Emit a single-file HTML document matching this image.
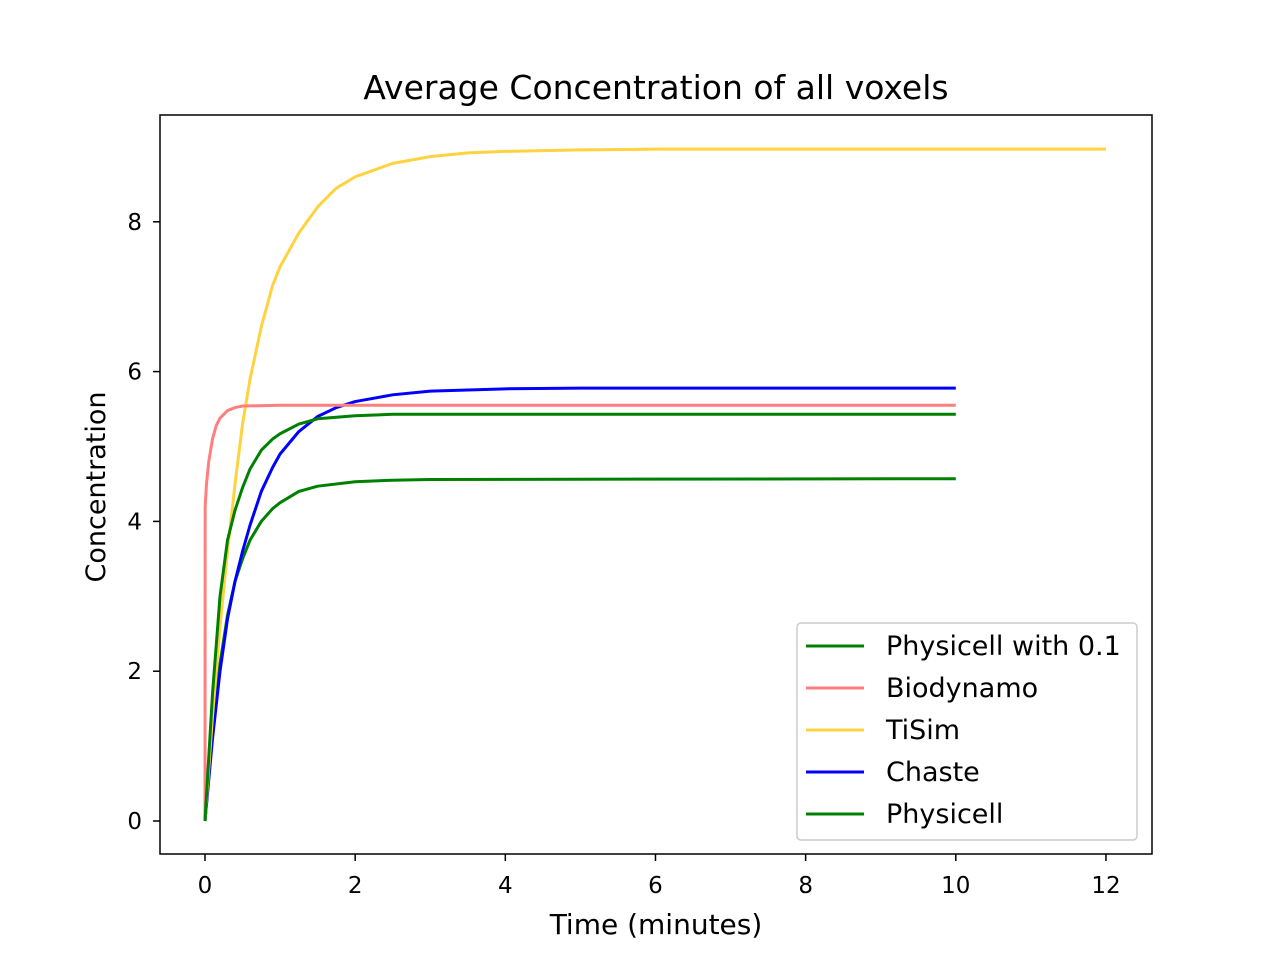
<!DOCTYPE html>
<html><head><meta charset="utf-8"><style>
body{margin:0;background:#fff}
svg text{font-family:"DejaVu Sans","Liberation Sans",sans-serif;fill:#000}
</style></head><body>
<svg id="chart" width="1280" height="960" xmlns="http://www.w3.org/2000/svg">
<rect width="1280" height="960" fill="#fff"/>
<text x="656" y="99" style="font-size:33px" text-anchor="middle">Average Concentration of all voxels</text>
<g id="plot"></g>
<rect x="160" y="115" width="992" height="739" fill="none" stroke="#000" stroke-width="1.5"/>
<g id="axes"></g>
<text x="656" y="934" style="font-size:28px" text-anchor="middle">Time (minutes)</text>
<text x="105" y="487" style="font-size:27px" text-anchor="middle" transform="rotate(-90 105 487)">Concentration</text>
<g id="legend"></g>
</svg>
<script>
const xTicks=[0,2,4,6,8,10,12];
const yTicks=[0,2,4,6,8];
const tisimT=[0,0.1,0.2,0.3,0.4,0.5,0.6,0.75,0.9,1,1.25,1.5,1.75,2,2.5,3,3.5,4,5,6,8,12];
const tisimV=[0,1.4,2.6,3.6,4.5,5.3,5.9,6.6,7.15,7.4,7.85,8.2,8.45,8.6,8.78,8.87,8.92,8.94,8.96,8.97,8.97,8.97];
const bioT=[0,0.002,0.02,0.05,0.1,0.15,0.2,0.3,0.4,0.5,1,10];
const bioV=[0,4.2,4.5,4.8,5.1,5.28,5.38,5.48,5.52,5.54,5.55,5.55];
const chasteT=[0,0.1,0.2,0.3,0.4,0.5,0.6,0.75,0.9,1,1.25,1.5,1.75,2,2.5,3,4,5,10];
const chasteV=[0,1.1,2.0,2.7,3.2,3.6,3.95,4.4,4.72,4.9,5.2,5.4,5.52,5.6,5.69,5.74,5.77,5.78,5.78];
const pc01T=[0,0.1,0.2,0.3,0.4,0.5,0.6,0.75,0.9,1,1.25,1.5,2,2.5,3,10];
const pc01V=[0,1.7,3.0,3.75,4.15,4.45,4.7,4.95,5.1,5.17,5.3,5.37,5.41,5.43,5.43,5.43];
const pcT=[0,0.1,0.2,0.3,0.4,0.5,0.6,0.75,0.9,1,1.25,1.5,2,2.5,3,10];
const pcV=[0,1.2,2.1,2.75,3.2,3.5,3.75,4.0,4.17,4.25,4.4,4.47,4.53,4.55,4.56,4.57];
const X=t=>205+t*75.08, Y=v=>821-v*74.9;
const NS="http://www.w3.org/2000/svg";
function mk(tag,attrs,parent){const e=document.createElementNS(NS,tag);for(const k in attrs)e.setAttribute(k,attrs[k]);parent.appendChild(e);return e;}
const plot=document.getElementById('plot'),axes=document.getElementById('axes'),leg=document.getElementById('legend');
function series(T,V,color,name){
 const p=mk('polyline',{points:T.map((t,i)=>X(t)+','+Y(V[i])).join(' '),fill:'none',stroke:color,'stroke-width':3,'stroke-linejoin':'round'},plot);
 
 
}
series(pcT,pcV,'#008000','physicell-line');
series(chasteT,chasteV,'#0000ff','chaste-line');
series(tisimT,tisimV,'#ffd23f','tisim-line');
series(bioT,bioV,'#ff7f7f','biodynamo-line');
series(pc01T,pc01V,'#008000','physicell-0.1-line');
xTicks.forEach(t=>{
 const l=mk('line',{x1:X(t),x2:X(t),y1:854,y2:861,stroke:'#000','stroke-width':1.5},axes);
 
 
 const tx=mk('text',{x:X(t),y:893,style:'font-size:23px','text-anchor':'middle'},axes);tx.textContent=t;
 
 
});
yTicks.forEach(v=>{
 const l=mk('line',{x1:153,x2:160,y1:Y(v),y2:Y(v),stroke:'#000','stroke-width':1.5},axes);
 
 
 const tx=mk('text',{x:142,y:Y(v)+8,style:'font-size:23px','text-anchor':'end'},axes);tx.textContent=v;
 
 
});
mk('rect',{x:797,y:623,width:340,height:217,rx:4,fill:'#fff','fill-opacity':0.8,stroke:'#ccc','stroke-width':1.5},leg);
const legNames=['Physicell with 0.1','Biodynamo','TiSim','Chaste','Physicell'];
const legColors=['#008000','#ff7f7f','#ffd23f','#0000ff','#008000'];
legNames.forEach((n,i)=>{
 const y=646+i*42;
 const g=mk('g',{},leg);
 
 
 mk('line',{x1:806,x2:864,y1:y,y2:y,stroke:legColors[i],'stroke-width':3},g);
 const t=mk('text',{x:886,y:y+9,style:'font-size:27px'},g);t.textContent=n;
});
</script>
</body></html>
